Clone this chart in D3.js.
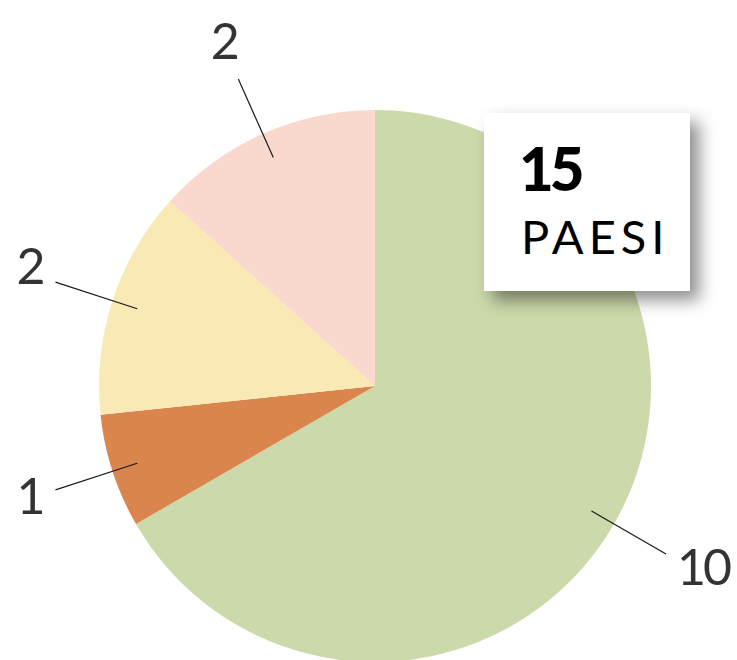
<!DOCTYPE html>
<html>
<head>
<meta charset="utf-8">
<script src="https://cdn.jsdelivr.net/npm/d3@7.9.0/dist/d3.min.js"></script>
<style>
  body { margin: 0; background: #fff; overflow: hidden; }
  #wrap { position: relative; width: 737px; height: 660px; }
  svg { position: absolute; left: 0; top: 0; }
  .box {
    position: absolute; left: 484px; top: 113px; width: 206px; height: 178px;
    background: #fff; box-shadow: 9px 9px 16px rgba(0,0,0,0.45);
    font-family: Lato, "Open Sans", sans-serif; color: #000;
  }
  .box .num { position: absolute; left: 35px; top: 25px; font-size: 60px; font-weight: 900; line-height: 1; letter-spacing: -4px; }
  .box .lbl { position: absolute; left: 37px; top: 100px; font-size: 47px; font-weight: 400; line-height: 1; letter-spacing: 5px; }
</style>
</head>
<body>
<div id="wrap">
  <svg id="chart" width="737" height="660"></svg>
  <div class="box"><div class="num"></div><div class="lbl"></div></div>
</div>
<script>
const labels = ['A', 'B', 'C', 'D'];
const values = [10, 1, 2, 2];
const colors = ['#ccd9aa', '#da844e', '#f8e9b5', '#f9d9ce'];
const totalLabel = 'PAESI';

const cx = 375, cy = 386, radius = 276;

const svg = d3.select('#chart');
const g = svg.append('g').attr('transform', `translate(${cx}, ${cy})`);

const pie = d3.pie().value(d => d).sort(null);
const arcs = pie(values);
const arc = d3.arc().innerRadius(0).outerRadius(radius);

g.selectAll('path')
  .data(arcs)
  .join('path')
  .attr('d', arc)
  .attr('fill', (d, i) => colors[i]);

const polar = (a, r) => [Math.sin(a) * r, -Math.cos(a) * r];

arcs.forEach(d => {
  const mid = (d.startAngle + d.endAngle) / 2;
  const [x1, y1] = polar(mid, 250);
  const [x2, y2] = polar(mid, 336);
  g.append('line')
    .attr('x1', x1).attr('y1', y1).attr('x2', x2).attr('y2', y2)
    .attr('stroke', '#1a1a1a').attr('stroke-width', 1.2);

  const s = Math.sin(mid);
  let [tx, ty] = polar(mid, 372);
  let anchor = 'middle';
  if (Math.abs(s) > 0.5) {
    anchor = s > 0 ? 'start' : 'end';
    tx = x2 + (s > 0 ? 11 : -13);
  }
  g.append('text')
    .attr('x', tx).attr('y', ty - 6)
    .attr('text-anchor', anchor)
    .attr('dominant-baseline', 'central')
    .attr('font-family', 'Lato, "Open Sans", sans-serif')
    .attr('font-size', 50)
    .attr('letter-spacing', -3)
    .attr('fill', '#333')
    .text(d.data);
});

d3.select('.box .num').text(d3.sum(values));
d3.select('.box .lbl').text(totalLabel);
</script>
</body>
</html>
